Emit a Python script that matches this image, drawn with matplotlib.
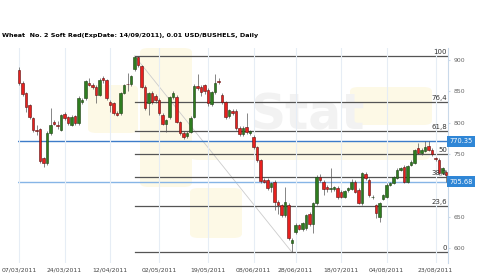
import matplotlib
matplotlib.use("Agg")
import matplotlib.pyplot as plt
import numpy as np
from matplotlib.patches import FancyBboxPatch

title = "Wheat  No. 2 Soft Red(ExpDate: 14/09/2011), 0.01 USD/BUSHELS, Daily"

# daily candles (open, high, low, close)
opens = [884, 863, 847, 828, 807, 788, 790, 744, 736, 783, 801, 797, 788, 814, 809, 796, 810, 799, 833, 839,
         864, 860, 857, 844, 871, 868, 833, 831, 815, 815, 847, 862, 861, 885, 905, 890, 857, 831, 847, 842,
         836, 812, 798, 809, 841, 841, 801, 783, 778, 785, 809, 858, 857, 860, 852, 829, 849, 866, 844, 833,
         810, 818, 819, 792, 782, 793, 784, 777, 761, 740, 708, 708, 697, 706, 673, 668, 652, 669, 608, 626,
         636, 630, 632, 654, 638, 672, 713, 706, 697, 694, 694, 696, 690, 682, 692, 694, 705, 693, 672, 718,
         709, 681, 668, 650, 678, 682, 701, 704, 712, 725, 729, 705, 733, 736, 760, 752, 755, 762, 756, 743,
         741, 720, 721]
highs = [888, 866, 849, 830, 809, 797, 792, 746, 786, 823, 804, 803, 814, 817, 811, 812, 813, 843, 840, 868,
         872, 863, 860, 871, 875, 870, 836, 833, 818, 849, 862, 879, 876, 906.5, 906, 892, 860, 849, 850, 845,
         839, 815, 806, 843, 850, 844, 803, 786, 787, 810, 862, 877, 860, 862, 855, 851, 877, 871, 847, 835,
         822, 821, 822, 795, 794, 815, 789, 780, 763, 742, 712, 711, 706, 708, 676, 670, 697, 672, 616, 640,
         639, 642, 655, 657, 674, 716, 718, 709, 700, 728, 699, 699, 692, 693, 698, 710, 708, 695, 722, 721,
         711, 684, 670, 674, 686, 703, 706, 715, 727, 730, 733, 733, 741, 758, 768, 759, 770, 770, 759, 746,
         743, 729, 724]
lows = [860, 843, 817, 806, 785, 780, 736, 729, 733, 780, 796, 790, 786, 804, 796, 794, 797, 797, 830, 836,
        858, 853, 831, 842, 864, 836, 817, 812, 810, 813, 845, 850, 858, 883, 889, 855, 820, 812, 830, 832,
        812, 796, 785, 806, 838, 799, 780, 774, 776, 783, 807, 852, 843, 845, 826, 826, 846, 861, 830, 806,
        807, 812, 789, 779, 779, 782, 780, 758, 737, 704, 703, 693, 690, 661, 655, 649, 650, 613, 593.2, 622,
        628, 627, 629, 635, 624, 669, 705, 684, 690, 690, 691, 678, 679, 680, 689, 692, 687, 670, 668, 709,
        682, 678, 648, 641, 676, 680, 699, 702, 710, 723, 703, 703, 731, 734, 750, 749, 753, 754, 747, 739,
        716, 718, 706]
closes = [863, 846, 825, 809, 788, 786, 739, 736, 783, 796, 798, 795, 812, 807, 799, 809, 800, 839, 836, 866,
          860, 857, 844, 868, 868, 839, 828, 815, 812, 847, 860, 861, 874, 905, 892, 857, 823, 847, 833, 836,
          815, 798, 804, 841, 847, 801, 783, 777, 784, 807, 859, 855, 849, 850, 831, 849, 863, 865, 833, 809,
          820, 815, 792, 782, 792, 785, 786, 761, 740, 707, 706, 696, 704, 673, 668, 652, 673, 616, 612, 637,
          631, 640, 652, 638, 672, 713, 708, 694, 694, 696, 697, 681, 682, 691, 696, 706, 690, 672, 720, 712,
          685, 681, 656, 672, 684, 701, 704, 713, 725, 728, 705, 731, 738, 756, 752, 756, 761, 756, 750, 742,
          719, 727, 716]

date_pos = [0, 13, 26, 40, 54, 67, 79, 92, 105, 119]
date_labels = ["07/03/2011", "24/03/2011", "12/04/2011", "02/05/2011", "19/05/2011",
               "08/06/2011", "28/06/2011", "18/07/2011", "04/08/2011", "23/08/2011"]
price_ticks = [600, 650, 750, 800, 850, 900]
fib_ratios = [100, 76.4, 61.8, 50, 38.2, 23.6, 0]
fib_names = ["100", "76,4", "61,8", "50", "38,2", "23,6", "0"]
marks = [770.35, 705.68]

o = np.array(opens, float)
h = np.array(highs, float)
l = np.array(lows, float)
c = np.array(closes, float)
x = np.arange(len(o))

fig = plt.figure(figsize=(5, 2.79), dpi=100)
ax = fig.add_axes([18 / 500, 1 - 263 / 279, 430 / 500, 215 / 279])
ax.set_xlim(-0.29, 122.57)
ax.set_ylim(576.1, 919.1)


def pa(px, py):
    # picture pixels -> axes fraction (for the faint logo only)
    return (px - 18) / 430, (263 - py) / 215


# faint logo in the background
yel = "#fdf9e6"
for (x0, y0, x1, y1) in [(88, 85, 138, 133), (140, 48, 192, 187), (190, 188, 242, 238),
                         (190, 141, 430, 160), (350, 87, 432, 125)]:
    ax0, ay1 = pa(x0, y0)
    ax1, ay0 = pa(x1, y1)
    ax.add_patch(FancyBboxPatch((ax0, ay0), ax1 - ax0, ay1 - ay0,
                                boxstyle="round,pad=0,rounding_size=0.02",
                                transform=ax.transAxes, fc=yel, ec="none", zorder=0))
sx, sy = pa(250, 130)
ax.text(sx, sy, "Stat", transform=ax.transAxes, fontsize=35, fontweight="bold",
        color="#f2f2f2", ha="left", va="baseline", zorder=0.5)

ax.grid(axis="x", color="#e6edf5", lw=0.8, zorder=0.6)

# fibonacci retracement from the top to the bottom
i_hi = int(np.argmax(h))
i_lo = int(np.argmin(l))
top, bot = h[i_hi], l[i_lo]
ax.plot([i_hi, i_lo], [top, bot], color="#cccccc", lw=0.6, zorder=1)
for r, name in zip(fib_ratios, fib_names):
    lev = bot + (top - bot) * r / 100
    ax.plot([i_hi, 122.57], [lev, lev], color="#555555", lw=0.9, zorder=1)
    ax.text(122.3, lev + 2, name, ha="right", va="bottom", fontsize=5, color="#333333", zorder=4)

# candles
up = c >= o
ax.vlines(x, l, h, color="#555555", lw=0.5, zorder=2)
body = np.maximum(np.abs(c - o), 0.8)
ax.bar(x[up], body[up], bottom=np.minimum(o, c)[up], width=0.8,
       color="#2e7d1f", edgecolor="#1d3d12", lw=0.4, zorder=3)
ax.bar(x[~up], body[~up], bottom=np.minimum(o, c)[~up], width=0.8,
       color="#e8201e", edgecolor="#5a1010", lw=0.4, zorder=3)

# price marks
ax.axhline(marks[0], color="#3d7cc9", lw=1.0, zorder=1.5)
ax.axhline(marks[1], color="#86b5e6", lw=1.0, zorder=1.5)
for m in marks:
    ax.text(1.004, m, f"{m:.2f}", transform=ax.get_yaxis_transform(), ha="left", va="center",
            fontsize=4.8, color="white", zorder=5, clip_on=False,
            bbox=dict(boxstyle="square,pad=0.35", fc="#2f86d6", ec="none"))

for s in ["top", "left", "bottom"]:
    ax.spines[s].set_visible(False)
ax.spines["right"].set_color("#c9d9ea")
ax.spines["right"].set_linewidth(0.8)

ax.yaxis.tick_right()
ax.set_yticks(price_ticks)
ax.set_yticklabels([str(t) for t in price_ticks])
ax.tick_params(axis="y", labelsize=4.4, labelcolor="#666666", length=1.5, color="#c9d9ea", pad=2.5)
ax.set_xticks(date_pos)
ax.set_xticklabels(date_labels)
ax.tick_params(axis="x", labelsize=4.4, labelcolor="#444444", length=0, pad=3)

fig.text(2 / 500, 1 - 36 / 279, title, fontsize=4.6, fontweight="bold", va="center", ha="left")

fig.savefig("out.png", dpi=100)
